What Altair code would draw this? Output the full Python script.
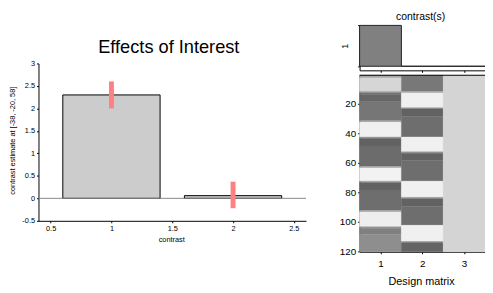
import altair as alt
import pandas as pd

# ---------------- data ----------------
# Left panel: contrast estimates with confidence intervals
contrast_idx = [1, 2]
estimates = [2.30, 0.06]
ci_low = [2.00, -0.22]
ci_high = [2.60, 0.37]
bar_half_width = 0.4

x_ticks_left = [0.5, 1, 1.5, 2, 2.5]
y_ticks_left = [-0.5, 0, 0.5, 1, 1.5, 2, 2.5, 3]

# Contrast weights panel
contrast_cols = [1, 2, 3]
contrast_weights = [1, 0, 0]

# Design matrix: run-length coded grey levels (number of rows, grey 0-255)
dm_col1 = [(1, 140), (1, 180), (9, 214), (1, 160), (1, 115), (5, 102), (13, 118),
           (1, 170), (10, 240), (1, 150), (5, 98), (14, 108),
           (1, 170), (9, 242), (1, 150), (5, 98), (14, 110),
           (1, 170), (10, 238), (1, 150), (4, 128), (12, 142)]
dm_col2 = [(11, 120), (1, 170), (10, 240), (1, 150), (5, 98), (14, 110),
           (10, 240), (1, 150), (5, 98), (14, 110),
           (11, 240), (1, 150), (5, 98), (13, 110),
           (11, 240), (1, 140), (6, 100)]
dm_col3 = [(120, 212)]

dm_y_ticks = [20, 40, 60, 80, 100, 120]
dm_x_ticks = [1, 2, 3]

# ---------------- tables ----------------
bars_df = pd.DataFrame({"c": contrast_idx, "est": estimates, "lo": ci_low, "hi": ci_high})
bars_df["x0"] = bars_df["c"] - bar_half_width
bars_df["x1"] = bars_df["c"] + bar_half_width
bars_df["base"] = 0.0

zero_df = pd.DataFrame({"x0": [0.4], "x1": [2.6], "y": [0.0]})

con_df = pd.DataFrame({"c": contrast_cols, "w": contrast_weights})
con_df["c0"] = con_df["c"] - 0.5
con_df["c1"] = con_df["c"] + 0.5
con_df["base"] = 0.0

# one rectangle per run of equal grey rows
cells = []
for ci, runs in enumerate([dm_col1, dm_col2, dm_col3], start=1):
    start = 1
    for n, g in runs:
        cells.append(dict(c0=ci - 0.5, c1=ci + 0.5, r0=start - 0.5, r1=start + n - 0.5,
                          shade="#%02x%02x%02x" % (g, g, g)))
        start += n
dm_df = pd.DataFrame(cells)
dm_top_df = pd.DataFrame({"x0": [0.5], "x1": [3.5], "y": [0.5]})

# ---------------- layout ----------------
W, H = 485, 285
FONT = "Liberation Sans"
LBL = "'' + datum.value"


def xL():
    return alt.Scale(domain=[0.4, 2.6], range=[31, 303], nice=False, zero=False)


def yL():
    return alt.Scale(domain=[-0.5, 3], range=[214, 54], nice=False, zero=False)


def xR():
    return alt.Scale(domain=[0.5, 3.5], range=[357.5, 485], nice=False, zero=False)


def yC():
    return alt.Scale(domain=[-0.1, 1], range=[61, 15.3], nice=False, zero=False)


def yD():
    return alt.Scale(domain=[0.5, 120.5], range=[66, 245.5], nice=False, zero=False)


# ---- left panel ----
bars = alt.Chart(bars_df).mark_rect(fill="#cccccc", stroke="#000000", strokeWidth=1).encode(
    x=alt.X("x0:Q", scale=xL(), axis=alt.Axis(
        orient="bottom", offset=214 - H, values=x_ticks_left, labelExpr=LBL,
        tickSize=2, labelPadding=2, labelFontSize=7.5, labelFlush=False,
        title="contrast", titleFontSize=7.5, titleX=166, titleY=21.3,
        titleAlign="center", titleBaseline="alphabetic")),
    x2="x1:Q",
    y=alt.Y("base:Q", scale=yL(), axis=alt.Axis(
        orient="left", offset=-31, values=y_ticks_left, labelExpr=LBL,
        tickSize=2, labelPadding=2, labelFontSize=7.5, labelFlush=False,
        title="contrast estimate at [-38, -20, 58]", titleFontSize=7.5,
        titleAngle=270, titleX=-26, titleY=132, titleAlign="center",
        titleBaseline="middle")),
    y2="est:Q",
)
zero_line = alt.Chart(zero_df).mark_rule(color="#888888", strokeWidth=1).encode(
    x=alt.X("x0:Q", scale=xL(), axis=None), x2="x1:Q",
    y=alt.Y("y:Q", scale=yL(), axis=None),
)
err = alt.Chart(bars_df).mark_rule(color="#ff8080", strokeWidth=5).encode(
    x=alt.X("c:Q", scale=xL(), axis=None),
    y=alt.Y("lo:Q", scale=yL(), axis=None), y2="hi:Q",
)

# ---- contrast panel ----
contrast = alt.Chart(con_df).mark_rect(fill="#808080", stroke="#222222", strokeWidth=1).encode(
    x=alt.X("c0:Q", scale=xR(), axis=alt.Axis(
        orient="bottom", offset=61 - H, values=dm_x_ticks, labels=False, tickSize=2,
        title="contrast(s)", titleFontSize=10.6, titleX=419, titleY=9.5 - 61,
        titleAlign="center", titleBaseline="alphabetic")),
    x2="c1:Q",
    y=alt.Y("base:Q", scale=yC(), axis=alt.Axis(
        orient="left", offset=-357.5, values=[0, 1], labels=False, tickSize=2,
        title="1", titleFontSize=9, titleAngle=270, titleX=-15, titleY=36,
        titleAlign="center", titleBaseline="middle")),
    y2="w:Q",
)

# ---- design matrix ----
dm = alt.Chart(dm_df).mark_rect(strokeWidth=0.4).encode(
    x=alt.X("c0:Q", scale=xR(), axis=alt.Axis(
        orient="bottom", offset=245.5 - H, values=dm_x_ticks, labelExpr=LBL,
        tickSize=2, labelPadding=4.5, labelFontSize=10, labelFlush=False,
        title="Design matrix", titleFontSize=11, titleX=420, titleY=33.2,
        titleAlign="center", titleBaseline="alphabetic")),
    x2="c1:Q",
    y=alt.Y("r0:Q", scale=yD(), axis=alt.Axis(
        orient="left", offset=-357.5, values=dm_y_ticks, labelExpr=LBL,
        tickSize=2, labelPadding=2, labelFontSize=10, labelFlush=False,
        title="Effects of Interest", titleFontSize=18.5, titleAngle=0,
        titleX=163 - 357.5, titleY=43, titleAlign="center",
        titleBaseline="alphabetic")),
    y2="r1:Q",
    color=alt.Color("shade:N", scale=None),
    stroke=alt.Stroke("shade:N", scale=None),
)
dm_top = alt.Chart(dm_top_df).mark_rule(color="#000000", strokeWidth=1).encode(
    x=alt.X("x0:Q", scale=xR(), axis=None), x2="x1:Q",
    y=alt.Y("y:Q", scale=yD(), axis=None),
)

chart = alt.layer(bars, zero_line, err, contrast, dm, dm_top).resolve_scale(
    x="independent", y="independent"
).properties(
    width=W, height=H, padding=0,
    autosize=alt.AutoSizeParams(type="none"),
).configure_view(strokeWidth=0).configure_axis(
    labelFont=FONT, titleFont=FONT, labelColor="#000000", titleColor="#000000",
    domainColor="#000000", tickColor="#000000", grid=False, titleFontWeight="normal",
    domainWidth=1, tickWidth=1,
)

chart.save("out.html", embed_options={"renderer": "svg", "actions": False})
